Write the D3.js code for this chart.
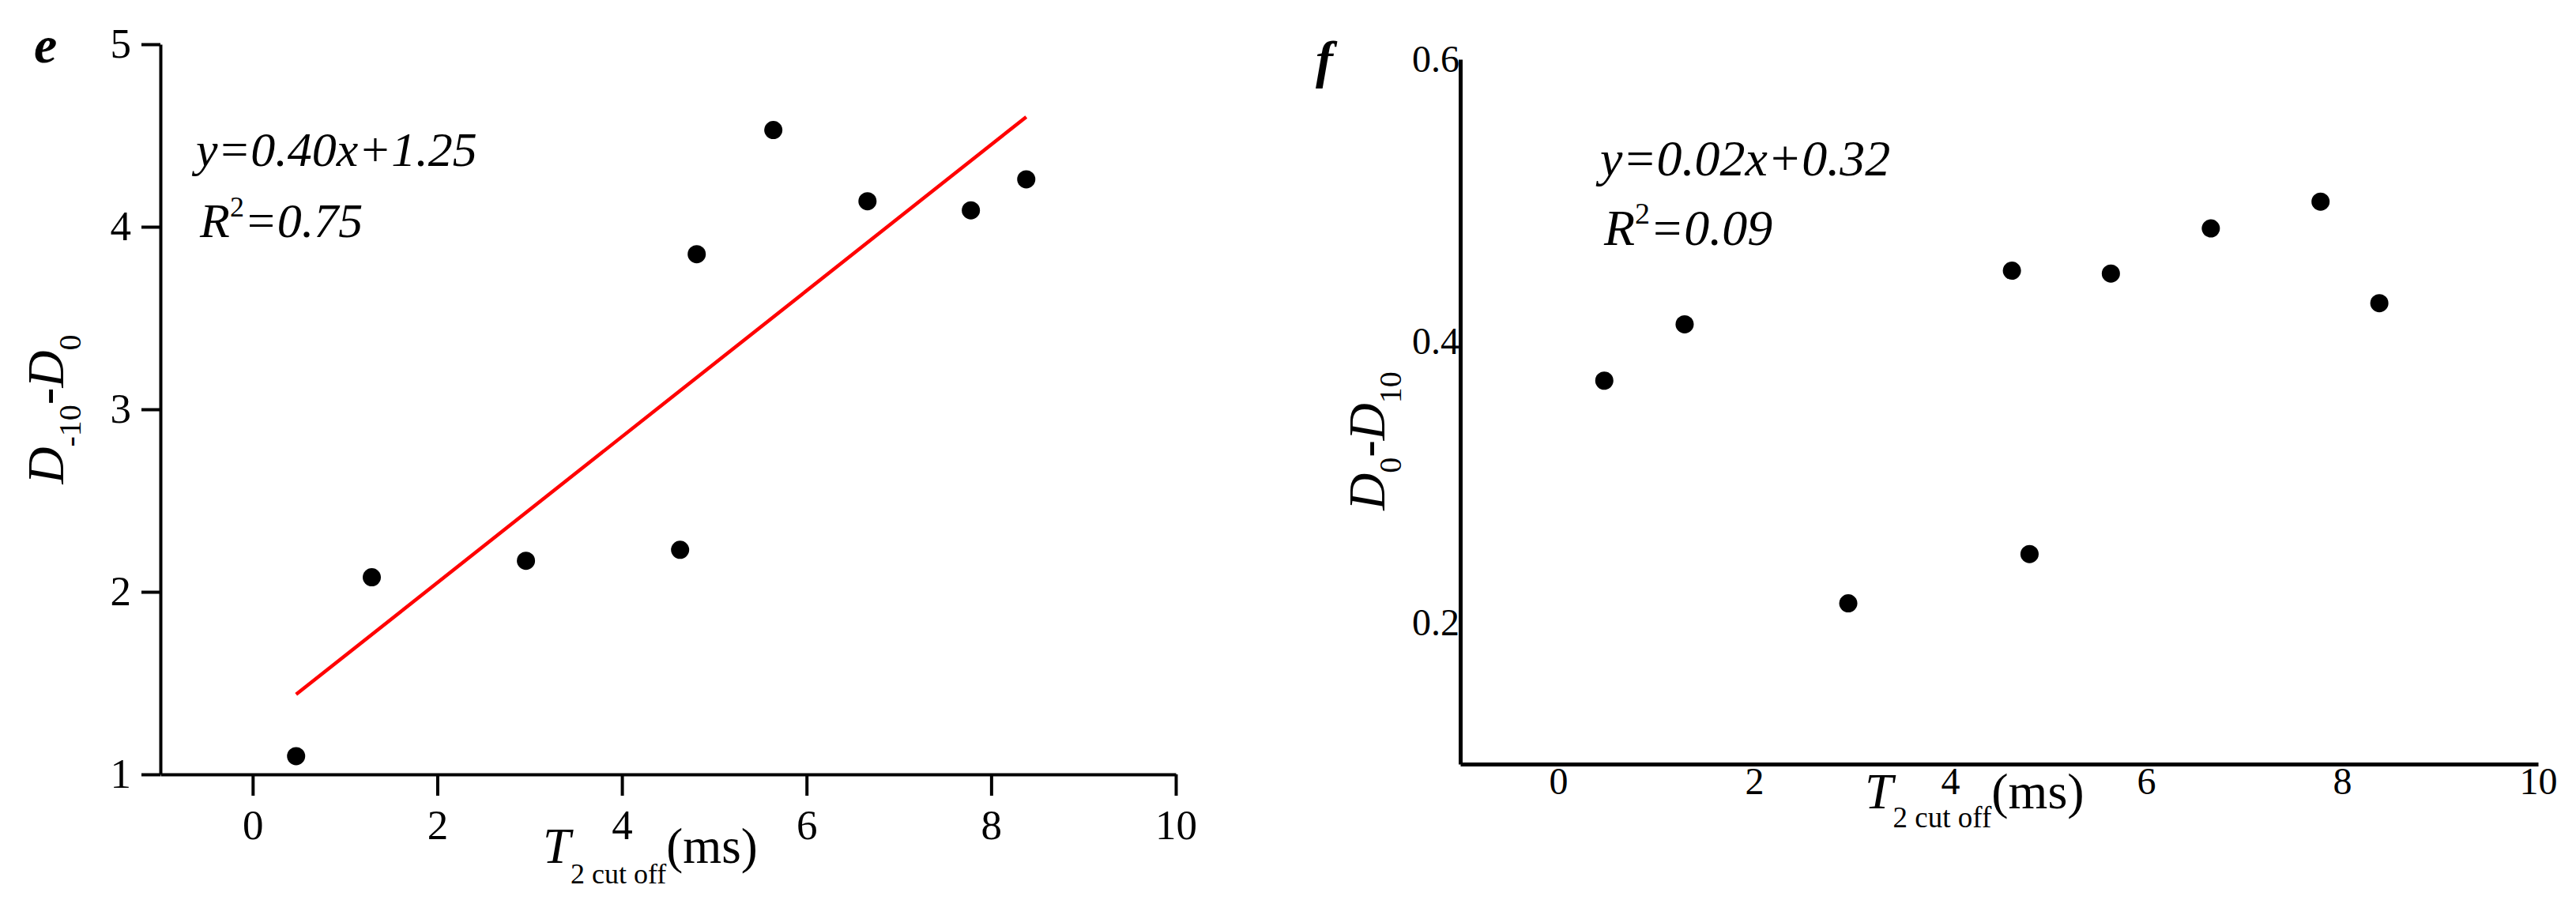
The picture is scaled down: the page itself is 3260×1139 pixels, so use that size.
<!DOCTYPE html>
<meta charset="utf-8">
<style>
  body { margin: 0; background: #fff; }
  svg { display: block; }
  text { font-family: "Liberation Serif", "Times New Roman", serif; fill: #000; }
</style>
<body>
<svg width="3260" height="1139"></svg>
<script src="https://d3js.org/d3.v7.min.js"></script>
<script>

// T2 cut off (ms), shared by both panels
var t2Cutoff = [0.47, 1.29, 2.96, 4.63, 4.81, 5.64, 6.66, 7.78, 8.38];
// panel e: D-10 - D0
var dDiffE = [1.10, 2.08, 2.17, 2.23, 3.85, 4.53, 4.14, 4.09, 4.26];
// panel f: D0 - D10
var dDiffF = [0.372, 0.412, 0.214, 0.450, 0.249, 0.448, 0.480, 0.499, 0.427];

var fitE = [0.40, 1.25], r2E = 0.75;   // slope, intercept
var fitF = [0.02, 0.32], r2F = 0.09;

var xTicks = [0, 2, 4, 6, 8, 10];
var yTicksE = [1, 2, 3, 4, 5];
var yTicksF = [0.2, 0.4, 0.6];

var svg = d3.select("svg");

// ---------- panel e ----------
var xE = d3.scaleLinear().domain([-1, 10]).range([203, 1488]);
var yE = d3.scaleLinear().domain([1, 5]).range([980, 56]);

var gE = svg.append("g");

var axE = gE.append("g")
    .attr("transform", "translate(0," + yE(1) + ")")
    .call(d3.axisBottom(xE).tickValues(xTicks).tickFormat(d3.format("d"))
        .tickSize(27).tickPadding(17).tickSizeOuter(0));
var ayE = gE.append("g")
    .attr("transform", "translate(" + xE(-1) + ",0)")
    .call(d3.axisLeft(yE).tickValues(yTicksE).tickFormat(d3.format("d"))
        .tickSize(24).tickPadding(13).tickSizeOuter(0));

[axE, ayE].forEach(function(a) {
    a.attr("font-family", null).attr("font-size", 53);
    a.selectAll("path, line").attr("stroke", "#000").attr("stroke-width", 4);
});

var ext = d3.extent(t2Cutoff);
gE.append("line")
    .attr("x1", xE(ext[0])).attr("y1", yE(fitE[0] * ext[0] + fitE[1]))
    .attr("x2", xE(ext[1])).attr("y2", yE(fitE[0] * ext[1] + fitE[1]))
    .attr("stroke", "#ff0000")
    .attr("stroke-width", 4.5);

gE.selectAll("circle")
    .data(t2Cutoff)
    .enter().append("circle")
    .attr("cx", function(d) { return xE(d); })
    .attr("cy", function(d, i) { return yE(dDiffE[i]); })
    .attr("r", 11.5)
    .attr("fill", "#000");

gE.append("text")
    .attr("x", 43).attr("y", 79)
    .style("font-size", "66px").style("font-style", "italic").style("font-weight", "bold")
    .text("e");

var eq1 = gE.append("text").attr("x", 248).attr("y", 210)
    .style("font-size", "62px").style("font-style", "italic");
eq1.text("y=" + fitE[0].toFixed(2) + "x+" + fitE[1].toFixed(2));

var eq2 = gE.append("text").attr("x", 253).attr("y", 300)
    .style("font-size", "62px").style("font-style", "italic");
eq2.append("tspan").text("R");
eq2.append("tspan").attr("dy", -26).style("font-size", "36px").style("font-style", "normal").text("2");
eq2.append("tspan").attr("dy", 26).text("=" + r2E.toFixed(2));

var ytE = gE.append("text")
    .attr("transform", "translate(80," + (yE(1) + yE(5)) / 2 + ") rotate(-90)")
    .attr("text-anchor", "middle")
    .style("font-size", "65px");
ytE.append("tspan").style("font-style", "italic").text("D");
ytE.append("tspan").attr("dy", 22).style("font-size", "40px").text("-10");
ytE.append("tspan").attr("dy", -22).text("-");
ytE.append("tspan").style("font-style", "italic").text("D");
ytE.append("tspan").attr("dy", 22).style("font-size", "40px").text("0");

var xtE = gE.append("text").attr("x", 687).attr("y", 1092).style("font-size", "63px");
xtE.append("tspan").style("font-style", "italic").text("T");
xtE.append("tspan").attr("dy", 26).style("font-size", "36px").text("2 cut off");
xtE.append("tspan").attr("dy", -26).text("(ms)");

// ---------- panel f ----------
var xF = d3.scaleLinear().domain([-1, 10]).range([1848, 3212]);
var yF = d3.scaleLinear().domain([0.1, 0.6]).range([967, 75]);

var gF = svg.append("g");

var axF = gF.append("g")
    .attr("transform", "translate(0," + yF(0.1) + ")")
    .call(d3.axisBottom(xF).tickValues(xTicks).tickFormat(d3.format("d"))
        .tickSize(0).tickPadding(4).tickSizeOuter(0));
var ayF = gF.append("g")
    .attr("transform", "translate(" + xF(-1) + ",0)")
    .call(d3.axisLeft(yF).tickValues(yTicksF).tickFormat(d3.format(".1f"))
        .tickSize(0).tickPadding(1).tickSizeOuter(0));

[axF, ayF].forEach(function(a) {
    a.attr("font-family", null).attr("font-size", 48);
    a.selectAll("path").attr("stroke", "#000").attr("stroke-width", 5);
});

gF.selectAll("circle")
    .data(t2Cutoff)
    .enter().append("circle")
    .attr("cx", function(d) { return xF(d); })
    .attr("cy", function(d, i) { return yF(dDiffF[i]); })
    .attr("r", 11.5)
    .attr("fill", "#000");

gF.append("text")
    .attr("x", 1665).attr("y", 98)
    .style("font-size", "66px").style("font-style", "italic").style("font-weight", "bold")
    .text("f");

var eq3 = gF.append("text").attr("x", 2025).attr("y", 222)
    .style("font-size", "64px").style("font-style", "italic");
eq3.text("y=" + fitF[0].toFixed(2) + "x+" + fitF[1].toFixed(2));

var eq4 = gF.append("text").attr("x", 2030).attr("y", 310)
    .style("font-size", "64px").style("font-style", "italic");
eq4.append("tspan").text("R");
eq4.append("tspan").attr("dy", -27).style("font-size", "38px").style("font-style", "normal").text("2");
eq4.append("tspan").attr("dy", 27).text("=" + r2F.toFixed(2));

var ytF = gF.append("text")
    .attr("transform", "translate(1752,558) rotate(-90)")
    .attr("text-anchor", "middle")
    .style("font-size", "65px");
ytF.append("tspan").style("font-style", "italic").text("D");
ytF.append("tspan").attr("dy", 21).style("font-size", "40px").text("0");
ytF.append("tspan").attr("dy", -21).text("-");
ytF.append("tspan").style("font-style", "italic").text("D");
ytF.append("tspan").attr("dy", 21).style("font-size", "40px").text("10");

var xtF = gF.append("text").attr("x", 2360).attr("y", 1023).style("font-size", "64px");
xtF.append("tspan").style("font-style", "italic").text("T");
xtF.append("tspan").attr("dy", 24).style("font-size", "37px").text("2 cut off");
xtF.append("tspan").attr("dy", -24).text("(ms)");

</script>
</body>
